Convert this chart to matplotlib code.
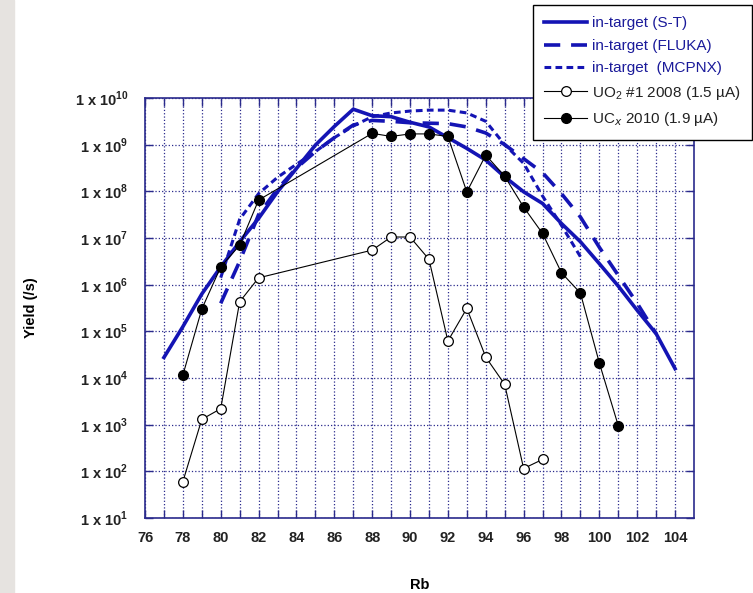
import numpy as np
import matplotlib.pyplot as plt
from matplotlib.patches import Rectangle
from matplotlib.ticker import FixedLocator, FuncFormatter, NullLocator

plt.rcParams['font.family'] = ['Liberation Sans', 'DejaVu Sans']
plt.rcParams['mathtext.fontset'] = 'custom'
plt.rcParams['mathtext.rm'] = 'Liberation Sans'
plt.rcParams['mathtext.bf'] = 'Liberation Sans:bold'

# in-target yield calculations (log10 of yield per second)
st_a = np.arange(77, 105)
st_log = [4.44, 5.1, 5.8, 6.38, 6.92, 7.42, 7.99, 8.49, 8.99, 9.39, 9.76, 9.62, 9.60, 9.48,
          9.38, 9.15, 8.92, 8.67, 8.31, 7.99, 7.74, 7.31, 6.92, 6.45, 5.97, 5.45, 4.95, 4.2]

fluka_a = np.arange(80, 104)
fluka_log = [5.6, 6.5, 7.5, 8.05, 8.5, 8.85, 9.15, 9.42, 9.52, 9.5, 9.47, 9.46, 9.45, 9.38,
             9.25, 9.0, 8.7, 8.4, 7.95, 7.45, 6.8, 6.2, 5.6, 4.95]

mcnpx_a = np.arange(80, 100)
mcnpx_log = [6.15, 7.4, 7.95, 8.3, 8.58, 8.85, 9.15, 9.4, 9.6, 9.68, 9.72, 9.74, 9.74, 9.68,
             9.5, 9.0, 8.6, 7.9, 7.27, 6.6]

# measured yields
uo2_a = [78, 79, 80, 81, 82, 88, 89, 90, 91, 92, 93, 94, 95, 96, 97]
uo2_y = [6e1, 1.3e3, 2.2e3, 4.3e5, 1.4e6, 5.5e6, 1.05e7, 1.05e7, 3.5e6, 6.2e4, 3.1e5,
         2.8e4, 7.3e3, 1.15e2, 1.8e2]

ucx_a = [78, 79, 80, 81, 82, 88, 89, 90, 91, 92, 93, 94, 95, 96, 97, 98, 99, 100, 101]
ucx_y = [1.15e4, 3e5, 2.4e6, 7e6, 6.5e7, 1.75e9, 1.5e9, 1.7e9, 1.7e9, 1.5e9, 9.7e7, 6e8,
         2.1e8, 4.6e7, 1.25e7, 1.8e6, 6.6e5, 2.1e4, 9.5e2]

x_labels = list(range(76, 105, 2))
decades = list(range(1, 11))

blue = '#1414b4'
navy = '#2a2a8c'

fig = plt.figure(figsize=(7.53, 5.93), dpi=100)
fig.patches.append(Rectangle((0, 0), 14 / 753, 1, transform=fig.transFigure,
                             color='#e6e3e0', zorder=0))
ax = fig.add_axes([145 / 753, 1 - 518 / 593, 549 / 753, 420 / 593])

ax.plot(st_a, 10.0 ** np.array(st_log), color=blue, lw=2.6, label='in-target (S-T)')
ax.plot(fluka_a, 10.0 ** np.array(fluka_log), color=blue, lw=2.6, dashes=(4.5, 3),
        label='in-target (FLUKA)')
ax.plot(mcnpx_a, 10.0 ** np.array(mcnpx_log), color=blue, lw=2.2, dashes=(2.2, 1.4),
        label='in-target  (MCPNX)')
ax.plot(uo2_a, uo2_y, color='black', lw=0.8, marker='o', ms=7, mfc='white', mec='black',
        mew=0.9, label='UO$_2$ #1 2008 (1.5 µA)')
ax.plot(ucx_a, ucx_y, color='black', lw=0.8, marker='o', ms=7, mfc='black', mec='black',
        label='UC$_x$ 2010 (1.9 µA)')

ax.set_yscale('log')
ax.set_xlim(76, 105)
ax.set_ylim(1e1, 1e10)

ax.xaxis.set_major_locator(FixedLocator(x_labels))
ax.xaxis.set_minor_locator(FixedLocator([v for v in range(77, 105, 2)]))
ax.yaxis.set_major_locator(FixedLocator([10.0 ** d for d in decades]))
ax.yaxis.set_minor_locator(NullLocator())
ax.yaxis.set_major_formatter(FuncFormatter(
    lambda v, pos: r'1 x 10$^{\mathbf{%d}}$' % round(np.log10(v))))

ax.tick_params(which='both', direction='in', color=navy, top=True, right=True,
               length=6, width=1)
ax.tick_params(axis='x', which='major', labelsize=10.5, pad=9)
ax.tick_params(axis='y', which='major', labelsize=10.5, pad=12)
for lab in ax.get_xticklabels() + ax.get_yticklabels():
    lab.set_fontweight('bold')
    lab.set_color('#222222')

ax.grid(True, which='both', axis='x', color=navy, ls=':', lw=0.9)
ax.grid(True, which='major', axis='y', color=navy, ls=':', lw=0.9)
for sp in ax.spines.values():
    sp.set_color(navy)
    sp.set_linewidth(1.2)

ax.set_xlabel('Rb', fontsize=10.5, fontweight='bold', labelpad=24)
ax.set_ylabel('Yield (/s)', fontsize=10.5, fontweight='bold', labelpad=26)

leg = fig.legend(loc='upper left', bbox_to_anchor=(533 / 753, 1 - 5 / 593), fontsize=11,
                 frameon=True, fancybox=False, edgecolor='black', framealpha=1,
                 handlelength=2.8, labelspacing=0.55, borderpad=0.75, handletextpad=0.3,
                 borderaxespad=0)
leg.get_frame().set_linewidth(1.0)
for i, txt in enumerate(leg.get_texts()):
    txt.set_color('#1a1a9a' if i < 3 else '#222222')

fig.savefig('out.png', dpi=100)
